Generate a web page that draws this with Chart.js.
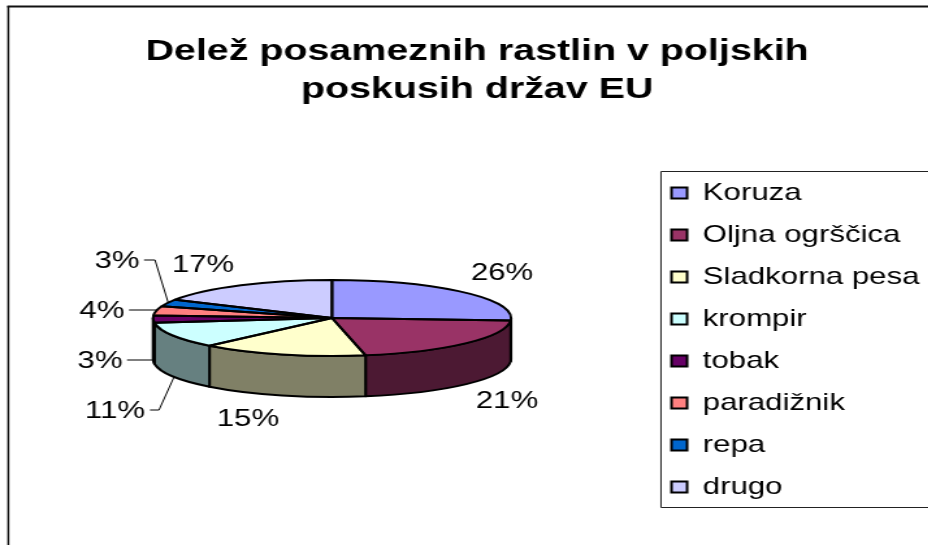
<!DOCTYPE html>
<html><head><meta charset="utf-8">
<style>
html,body{margin:0;padding:0;background:#fff;overflow:hidden;width:928px;height:545px}
canvas{display:block;position:absolute;left:0;top:0;transform-origin:0 0;transform:scaleX(1.3)}
</style>
<script src="https://cdn.jsdelivr.net/npm/chart.js@4/dist/chart.umd.min.js"></script>
</head><body>
<canvas id="c" width="714" height="545" style="width:714px;height:545px"></canvas>
<script>
const titleLines = ['Delež posameznih rastlin v poljskih', 'poskusih držav EU'];
const categories = ['Koruza', 'Oljna ogrščica', 'Sladkorna pesa', 'krompir', 'tobak', 'paradižnik', 'repa', 'drugo'];
const shares = [26, 21, 15, 11, 3, 4, 3, 17];
const topColors = ['#9999FF', '#993366', '#FFFFCC', '#CCFFFF', '#660066', '#FF8080', '#0066CC', '#CCCCFF'];
const wallColors = ['#4C4C80', '#4C1933', '#808066', '#668080', '#330033', '#804040', '#003366', '#666680'];

// The picture is stretched horizontally; coordinates below are in picture pixels.
const SX = 1.3;
const PIE = {cx: 332, cy: 318, rx: 179, ry: 38, depth: 41};
const labelSpots = [[502,271],[507,399],[248,417],[115,409],[100,359],[102,309],[117,259],[203,263]];
const leaders = [
  [[144,260],[155,260],[168,302]],
  [[129,310],[157,310]],
  [[127,360],[153,360]],
  [[150,410],[159,410],[174,377]]
];
const LEGEND = {left: 661, top: 171, bottom: 507, padding: 18, itemsLeft: 671.5, itemsTop: 181};

const pie3d = {
  id: 'pie3d',
  afterUpdate(chart) {
    const l = chart.legend;
    const w = l.right - l.left;
    l.left = LEGEND.itemsLeft / SX - LEGEND.padding; l.right = l.left + w;
    l.top = LEGEND.itemsTop - LEGEND.padding; l.bottom = 700;
  },
  beforeDraw(chart) {
    const c = chart.ctx;
    c.save();
    c.strokeStyle = '#111'; c.lineWidth = 1.5;
    c.beginPath();
    c.moveTo(6.4, 545); c.lineTo(6.4, 6); c.stroke();
    c.lineWidth = 2;
    c.beginPath();
    c.moveTo(5.6, 6.5); c.lineTo(714, 6.5);
    c.stroke();
    c.lineWidth = 1;
    c.strokeStyle = '#222';
    const lx = LEGEND.left / SX;
    c.beginPath();
    c.moveTo(714, LEGEND.top + .5); c.lineTo(lx, LEGEND.top + .5);
    c.lineTo(lx, LEGEND.bottom + .5); c.lineTo(714, LEGEND.bottom + .5);
    c.stroke();
    c.restore();
  },
  beforeDatasetsDraw(chart) {
    const c = chart.ctx, arcs = chart.getDatasetMeta(0).data;
    const cx = PIE.cx / SX, rx = PIE.rx / SX;
    c.save();
    c.lineWidth = 2; c.lineJoin = 'round'; c.strokeStyle = '#000';
    arcs.forEach((a, i) => {
      const a0 = Math.max(a.startAngle, 0), a1 = Math.min(a.endAngle, Math.PI);
      if (a0 >= a1) return;
      c.beginPath();
      c.ellipse(cx, PIE.cy, rx, PIE.ry, 0, a0, a1);
      c.ellipse(cx, PIE.cy + PIE.depth, rx, PIE.ry, 0, a1, a0, true);
      c.closePath();
      c.fillStyle = wallColors[i];
      c.fill(); c.stroke();
    });
    c.restore();
  },
  beforeDatasetDraw(chart, args) {
    const c = chart.ctx, a = args.meta.data[0], R = a.outerRadius;
    c.save();
    c.translate(PIE.cx / SX, PIE.cy);
    c.scale((PIE.rx / SX) / R, PIE.ry / R);
    c.translate(-a.x, -a.y);
  },
  afterDatasetDraw(chart) { chart.ctx.restore(); },
  afterDatasetsDraw(chart) {
    const c = chart.ctx, arcs = chart.getDatasetMeta(0).data;
    const cx = PIE.cx / SX, rx = PIE.rx / SX;
    c.save();
    c.lineWidth = 2; c.lineJoin = 'round'; c.strokeStyle = '#000';
    arcs.forEach(a => {
      c.beginPath();
      c.moveTo(cx, PIE.cy);
      c.ellipse(cx, PIE.cy, rx, PIE.ry, 0, a.startAngle, a.endAngle);
      c.closePath();
      c.stroke();
    });
    c.lineWidth = 1;
    leaders.forEach(pts => {
      c.beginPath();
      pts.forEach((p, i) => i ? c.lineTo(p[0] / SX, p[1]) : c.moveTo(p[0] / SX, p[1]));
      c.stroke();
    });
    c.fillStyle = '#000';
    c.font = '24px "Liberation Sans"';
    c.textAlign = 'center'; c.textBaseline = 'alphabetic';
    shares.forEach((v, i) => {
      c.fillText(v + '%', labelSpots[i][0] / SX, labelSpots[i][1] + 9);
    });
    c.restore();
  }
};

new Chart(document.getElementById('c'), {
  type: 'pie',
  data: {
    labels: categories,
    datasets: [{data: shares, backgroundColor: topColors, borderWidth: 0, clip: false}]
  },
  options: {
    responsive: false,
    animation: false,
    layout: {padding: {left: 20, top: 33}},
    plugins: {
      tooltip: {enabled: false},
      title: {
        display: true,
        text: titleLines,
        color: '#000',
        padding: {top: 0, bottom: 10},
        font: {family: '"Liberation Sans"', size: 30.3, weight: 'bold', lineHeight: 1.25}
      },
      legend: {
        position: 'right',
        align: 'start',
        labels: {
          padding: LEGEND.padding,
          boxWidth: 12,
          boxHeight: 11,
          color: '#000',
          font: {family: '"Liberation Sans"', size: 24, lineHeight: 1.25},
          generateLabels: () => categories.map((t, i) => ({
            text: t, fillStyle: topColors[i], strokeStyle: '#000', lineWidth: 2, index: i, hidden: false
          }))
        }
      }
    }
  },
  plugins: [pie3d]
});
</script>
</body></html>
